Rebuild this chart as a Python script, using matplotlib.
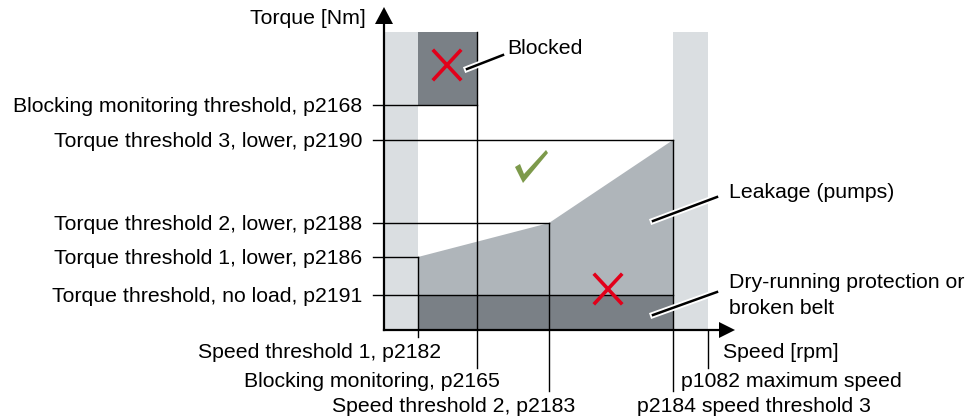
import matplotlib.pyplot as plt
import matplotlib.patheffects as pe
import numpy as np

# speed points (x, arbitrary units, origin = axis crossing)
n_thr1 = 34      # p2182
n_block = 93     # p2165
n_thr2 = 165     # p2183
n_thr3 = 289     # p2184
n_max = 324      # p1082
n_arrow = 351

# torque points (y)
m_noload = 35    # p2191
m_thr1 = 73      # p2186
m_thr2 = 107     # p2188
m_thr3 = 190     # p2190
m_block = 225    # p2168
m_top = 298
m_arrow = 323

torque_labels = ['Torque threshold, no load, p2191',
                 'Torque threshold 1, lower, p2186',
                 'Torque threshold 2, lower, p2188',
                 'Torque threshold 3, lower, p2190',
                 'Blocking monitoring threshold, p2168']
torque_values = [m_noload, m_thr1, m_thr2, m_thr3, m_block]
torque_line_ends = [n_thr3, n_thr1, n_thr2, n_thr3, n_block]

speed_labels = ['Speed threshold 1, p2182', 'Blocking monitoring, p2165',
                'Speed threshold 2, p2183', 'p2184 speed threshold 3',
                'p1082 maximum speed']
speed_values = [n_thr1, n_block, n_thr2, n_thr3, n_max]
speed_line_tops = [m_thr1, m_top, m_thr2, m_thr3, 0]

plt.rcParams['font.family'] = ['Liberation Sans', 'DejaVu Sans']
fs = 15.3
light = '#dadee1'
mid = '#afb5ba'
dark = '#7a8086'
red = '#e2001a'

fig = plt.figure(figsize=(9.72, 4.18), dpi=100)
ax = fig.add_axes([0, 0, 1, 1])
ax.set_xlim(-384, 588)
ax.set_ylim(-88, 330)
ax.axis('off')

# bands at the sides
ax.fill_between([0, n_thr1], 0, m_top, color=light, lw=0)
ax.fill_between([n_thr3, n_max], 0, m_top, color=light, lw=0)
# leakage area
ax.fill([n_thr1, n_thr1, n_thr2, n_thr3, n_thr3],
        [m_noload, m_thr1, m_thr2, m_thr3, m_noload], color=mid, lw=0)
# dry running area
ax.fill_between([n_thr1, n_thr3], 0, m_noload, color=dark, lw=0)
# blocked area
ax.fill_between([n_thr1, n_block], m_block, m_top, color=dark, lw=0)

# horizontal threshold lines
for m, e in zip(torque_values, torque_line_ends):
    ax.plot([-11, e], [m, m], color='k', lw=1.0)
# vertical threshold lines
speed_line_bottoms = [-7, -38, -61, -61, -38]
for n, t, b in zip(speed_values, speed_line_tops, speed_line_bottoms):
    ax.plot([n, n], [b, t], color='k', lw=1.0)

# axes with arrows
ax.plot([0, 0], [0, m_arrow - 14], color='k', lw=1.6)
ax.plot([0, n_arrow - 14], [0, 0], color='k', lw=1.6)
ax.fill([-9, 9, 0], [m_arrow - 17, m_arrow - 17, m_arrow], color='k', lw=0)
ax.fill([n_arrow - 16, n_arrow - 16, n_arrow], [-8, 8, 0], color='k', lw=0)

# torque labels
for lab, m in zip(torque_labels, torque_values):
    ax.text(-22, m - 7, lab, ha='right', va='baseline', fontsize=fs)
ax.text(-18, 306, 'Torque [Nm]', ha='right', va='baseline', fontsize=fs)

# speed labels
ax.text(57, -28, speed_labels[0], ha='right', va='baseline', fontsize=fs)
ax.text(116, -57, speed_labels[1], ha='right', va='baseline', fontsize=fs)
ax.text(191, -82, speed_labels[2], ha='right', va='baseline', fontsize=fs)
ax.text(253, -82, speed_labels[3], ha='left', va='baseline', fontsize=fs)
ax.text(297, -57, speed_labels[4], ha='left', va='baseline', fontsize=fs)
ax.text(339, -28, 'Speed [rpm]', ha='left', va='baseline', fontsize=fs)

# annotations with white halo leaders
halo = [pe.Stroke(linewidth=4.5, foreground='white'), pe.Normal()]
ax.plot([83, 119], [261, 275], color='k', lw=1.8, path_effects=halo)
ax.text(123, 276, 'Blocked', ha='left', va='baseline', fontsize=fs)
ax.plot([269, 333], [109, 133], color='k', lw=1.8, path_effects=halo)
ax.text(345, 132, 'Leakage (pumps)', ha='left', va='baseline', fontsize=fs)
ax.plot([269, 333], [15, 38], color='k', lw=1.8, path_effects=halo)
ax.text(345, 42, 'Dry-running protection or', ha='left', va='baseline', fontsize=fs)
ax.text(345, 16, 'broken belt', ha='left', va='baseline', fontsize=fs)

# red crosses
for cx, cy in [(63, 265), (224, 41)]:
    ax.plot([cx - 13, cx + 13], [cy + 14, cy - 14], color=red, lw=2.6)
    ax.plot([cx - 13, cx + 13], [cy - 14, cy + 14], color=red, lw=2.6)

# green check mark
chk_x = np.array([131, 136, 140, 162, 164, 139])
chk_y = 330 - np.array([167, 164, 174, 150, 153, 183])
ax.fill(chk_x, chk_y, color='#7d9a4b', lw=0)

plt.savefig('out.png', dpi=100)
